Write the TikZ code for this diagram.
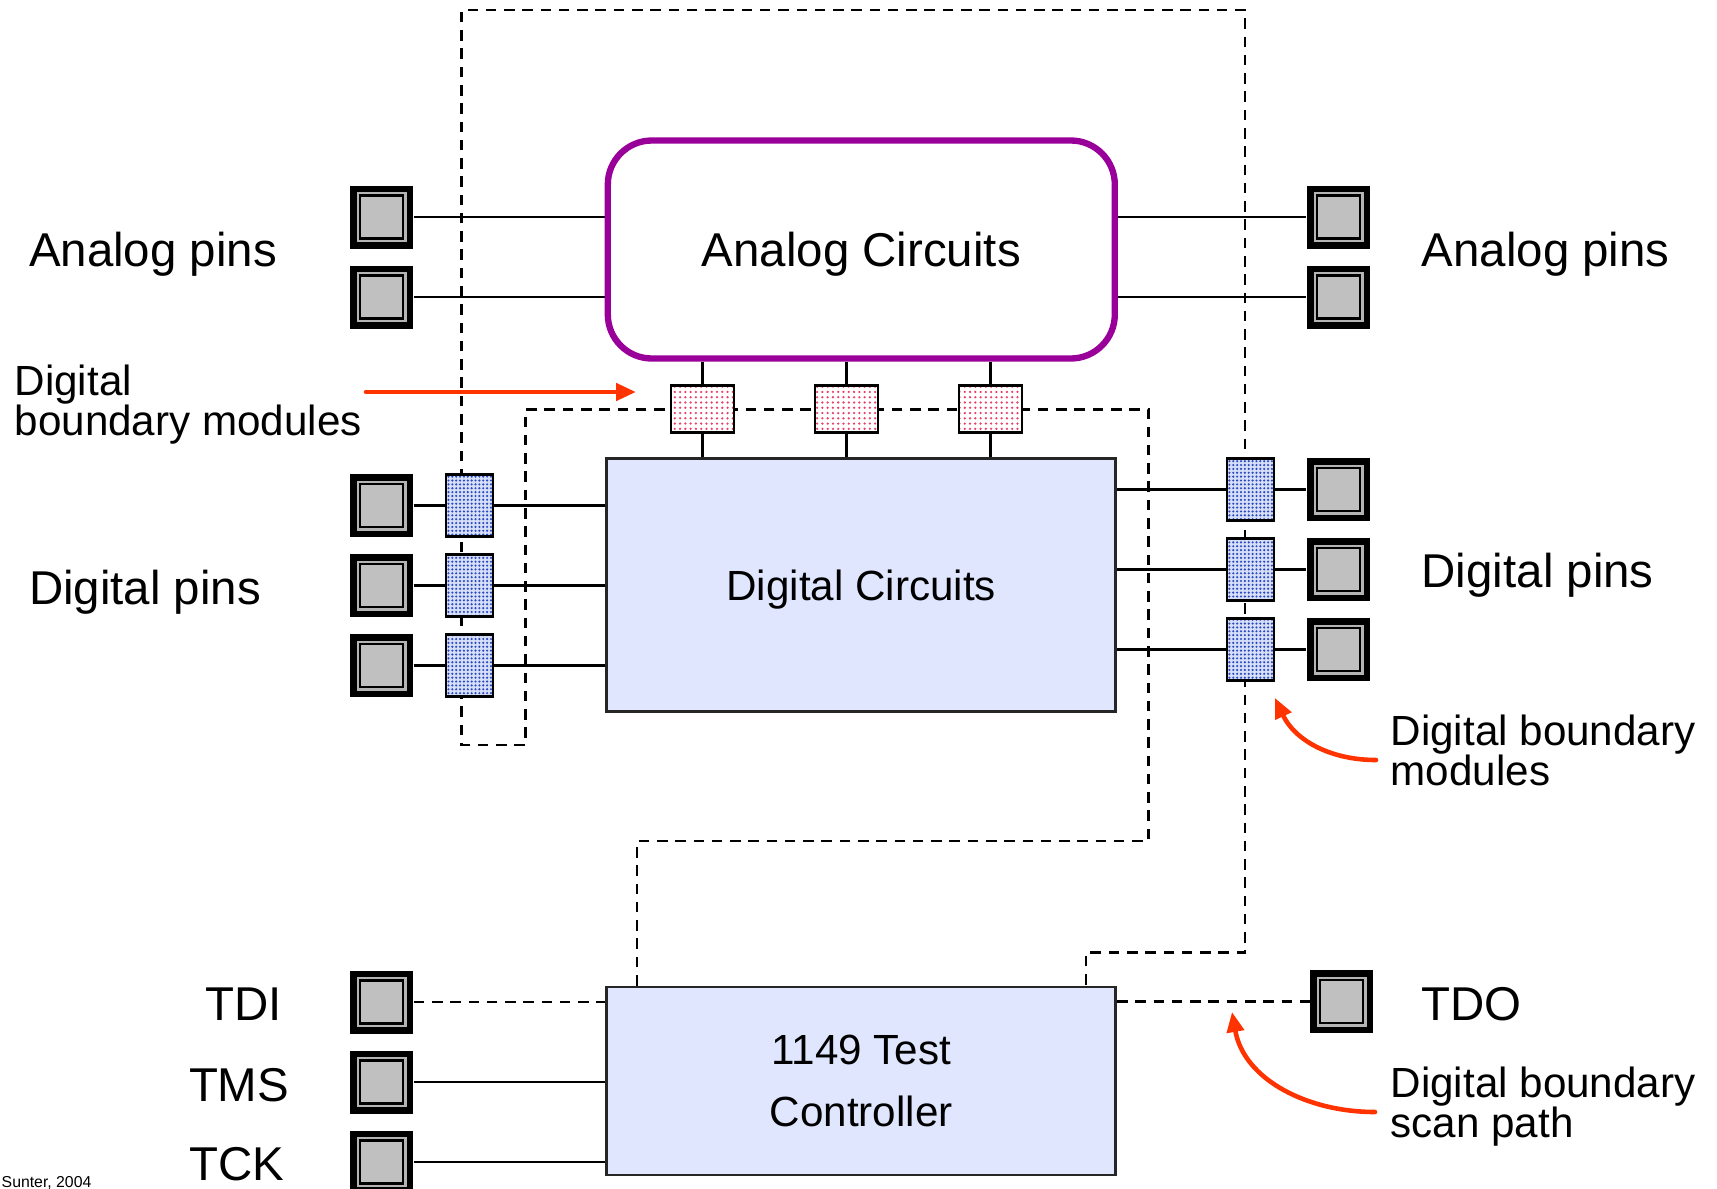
\documentclass[tikz,border=0pt]{standalone}
\usepackage{fontspec}
\setmainfont{Liberation Sans}
\usetikzlibrary{arrows.meta, patterns, backgrounds}

\definecolor{padgray}{HTML}{C0C0C0}
\definecolor{padring}{HTML}{B4B4B4}
\definecolor{chipblue}{HTML}{DFE6FD}
\definecolor{cellback}{HTML}{D6DFF7}
\definecolor{cellblue}{HTML}{2A48C0}
\definecolor{cellred}{HTML}{E8406A}
\definecolor{analogpurple}{HTML}{990099}
\definecolor{noteorange}{HTML}{FF3300}

% fine dot fills for the boundary cells
\pgfdeclarepatternformonly{finedots}{\pgfqpoint{-0.5pt}{-0.5pt}}{\pgfqpoint{0.5pt}{0.5pt}}{\pgfqpoint{1.1pt}{1.1pt}}{%
  \pgfpathcircle{\pgfpointorigin}{0.34pt}\pgfusepath{fill}}
\pgfdeclarepatternformonly{sparsedots}{\pgfqpoint{-0.5pt}{-0.5pt}}{\pgfqpoint{0.5pt}{0.5pt}}{\pgfqpoint{1.5pt}{1.5pt}}{%
  \pgfpathcircle{\pgfpointorigin}{0.36pt}\pgfusepath{fill}}

\begin{document}
\begin{tikzpicture}[x=0.1mm, y=-0.1mm,
        padbox/.style={fill=black, minimum size=6.3mm, inner sep=0pt,
            path picture={
                \fill[padring] ([shift={(-2.5mm,-2.5mm)}]path picture bounding box.center)
                    rectangle ([shift={(2.5mm,2.5mm)}]path picture bounding box.center);
                \draw[fill=padgray, line width=0.6pt] ([shift={(-2.15mm,-2.15mm)}]path picture bounding box.center)
                    rectangle ([shift={(2.15mm,2.15mm)}]path picture bounding box.center);
            }},
        cellv/.style={draw, line width=0.7pt, minimum width=4.7mm, minimum height=6.2mm, inner sep=0pt,
            preaction={fill=cellback}, preaction={pattern=finedots, pattern color=cellblue}},
        cellh/.style={draw, line width=0.7pt, minimum width=6.3mm, minimum height=4.7mm, inner sep=0pt,
            preaction={fill=white}, preaction={pattern=sparsedots, pattern color=cellred}},
        analogbox/.style={draw=analogpurple, line width=1.8pt, rounded corners=4.4mm,
            minimum width=50.7mm, minimum height=21.8mm,
            font=\fontsize{13.5pt}{16pt}\selectfont, text height=9.7pt, text depth=0pt},
        chip/.style={draw=black!85, fill=chipblue, line width=0.75pt, minimum width=50.9mm,
            font=\fontsize{12pt}{17.7pt}\selectfont, align=center},
        wire/.style={line width=0.7pt},
        scanpath/.style={line width=0.75pt, dash pattern=on 3pt off 2.2pt},
        pinlabel/.style={font=\fontsize{13.5pt}{16pt}\selectfont, inner sep=0pt, anchor=base west},
        note/.style={font=\fontsize{12pt}{11.4pt}\selectfont, inner sep=0pt, align=left, anchor=north west},
        callout/.style={draw=noteorange, line width=1.3pt, line cap=round,
            -{Triangle[length=2mm, width=1.7mm]}}]

    \useasboundingbox (0,0) rectangle (1717,1188);

    % Core blocks
    \node[analogbox] (analog) at (861.3,249.5) {Analog Circuits};
    \node[chip, minimum height=25.3mm, text height=8.6pt, text depth=0pt] (digital) at (861.2,585.3) {Digital Circuits};
    \node[chip, minimum height=18.8mm] (ctrl) at (861.2,1080.8) {1149 Test\\Controller};

    % Pads, left side
    \node[padbox] (aL1) at (381.5,217) {};
    \node[padbox] (aL2) at (381.5,297) {};
    \node[padbox] (dL1) at (381.5,505.5) {};
    \node[padbox] (dL2) at (381.5,585.5) {};
    \node[padbox] (dL3) at (381.5,665.5) {};
    \node[padbox] (tdi) at (381.5,1002) {};
    \node[padbox] (tms) at (381.5,1082) {};
    \node[padbox] (tck) at (381.5,1162) {};

    % Pads, right side
    \node[padbox] (aR1) at (1338.5,217) {};
    \node[padbox] (aR2) at (1338.5,297) {};
    \node[padbox] (dR1) at (1338.5,489.5) {};
    \node[padbox] (dR2) at (1338.5,569.5) {};
    \node[padbox] (dR3) at (1338.5,649.5) {};
    \node[padbox] (tdo) at (1341.7,1001.5) {};

    % Boundary cells
    \node[cellv] (mL1) at (469.7,505.5) {};
    \node[cellv] (mL2) at (469.7,585.5) {};
    \node[cellv] (mL3) at (469.7,665.5) {};
    \node[cellv] (mR1) at (1250.7,489.5) {};
    \node[cellv] (mR2) at (1250.7,569.5) {};
    \node[cellv] (mR3) at (1250.7,649.5) {};
    \node[cellh] (mT1) at (702.3,409.2) {};
    \node[cellh] (mT2) at (846.5,409.2) {};
    \node[cellh] (mT3) at (990.5,409.2) {};

    % Corners of the scan chain
    \coordinate (sp1) at (637,841);
    \coordinate (sp2) at (1148.7,409.5);
    \coordinate (sp3) at (525.6,409.5);
    \coordinate (sp4) at (461.7,745);
    \coordinate (sp5) at (461.7,10);
    \coordinate (sp6) at (1245,952.6);
    \coordinate (sp7) at (1086,952.6);

    \begin{pgfonlayer}{background}
        % Signal wires
        \draw[wire] (aL1) -- (aL1 -| analog.west);
        \draw[wire] (aL2) -- (aL2 -| analog.west);
        \draw[wire] (aR1 -| analog.east) -- (aR1);
        \draw[wire] (aR2 -| analog.east) -- (aR2);

        \draw[wire] (dL1) -- (mL1) -- (mL1 -| digital.west);
        \draw[wire] (dL2) -- (mL2) -- (mL2 -| digital.west);
        \draw[wire] (dL3) -- (mL3) -- (mL3 -| digital.west);
        \draw[wire] (mR1 -| digital.east) -- (mR1) -- (dR1);
        \draw[wire] (mR2 -| digital.east) -- (mR2) -- (dR2);
        \draw[wire] (mR3 -| digital.east) -- (mR3) -- (dR3);

        \draw[wire] (mT1 |- analog.south) -- (mT1 |- digital.north);
        \draw[wire] (mT2 |- analog.south) -- (mT2 |- digital.north);
        \draw[wire] (mT3 |- analog.south) -- (mT3 |- digital.north);

        \draw[wire] (tms) -- (tms -| ctrl.west);
        \draw[wire] (tck) -- (tck -| ctrl.west);

        % Scan chain
        \draw[scanpath] (tdi) -- (tdi -| ctrl.west);
        \draw[scanpath] (sp1 |- ctrl.north) -- (sp1) -| (sp2) -- (sp3) |- (sp4)
            -- (sp5) -| (sp6) -- (sp7) -- (sp7 |- ctrl.north);
        \draw[scanpath] (tdo -| ctrl.east) -- (tdo);
    \end{pgfonlayer}

    % Pin labels
    \node[pinlabel] (lbAL) at (28.3,266.7) {Analog pins};
    \node[pinlabel] (lbAR) at (1421,266.7) {Analog pins};
    \node[pinlabel] (lbDL) at (28.3,604.4) {Digital pins};
    \node[pinlabel] (lbDR) at (1421,587.5) {Digital pins};
    \node[pinlabel] (lbTDI) at (204.8,1020) {TDI};
    \node[pinlabel] (lbTMS) at (188.3,1101) {TMS};
    \node[pinlabel] (lbTCK) at (188.7,1180) {TCK};
    \node[pinlabel] (lbTDO) at (1420.7,1020) {TDO};

    % Notes with arrows
    \node[note] (noteTop) at (14,364) {Digital\\boundary modules};
    \node[note] (noteMid) at (1390,714) {Digital boundary\\modules};
    \node[note] (noteBot) at (1390,1066) {Digital boundary\\scan path};

    \coordinate (ar1s) at (366,392);
    \coordinate (ar1e) at (636,392);
    \coordinate (ar2s) at (1376,760);
    \coordinate (ar2e) at (1275,698);
    \coordinate (ar3s) at (1375,1112);
    \coordinate (ar3e) at (1232,1012);
    \draw[callout] (ar1s) -- (ar1e);
    \draw[callout] (ar2s) to[out=180, in=-65] (ar2e);
    \draw[callout] (ar3s) to[out=180, in=-80] (ar3e);

    \node[font=\fontsize{4.5pt}{5pt}\selectfont, inner sep=0pt, anchor=base west] (credit) at (1,1187) {Sunter, 2004};

\end{tikzpicture}
\end{document}
